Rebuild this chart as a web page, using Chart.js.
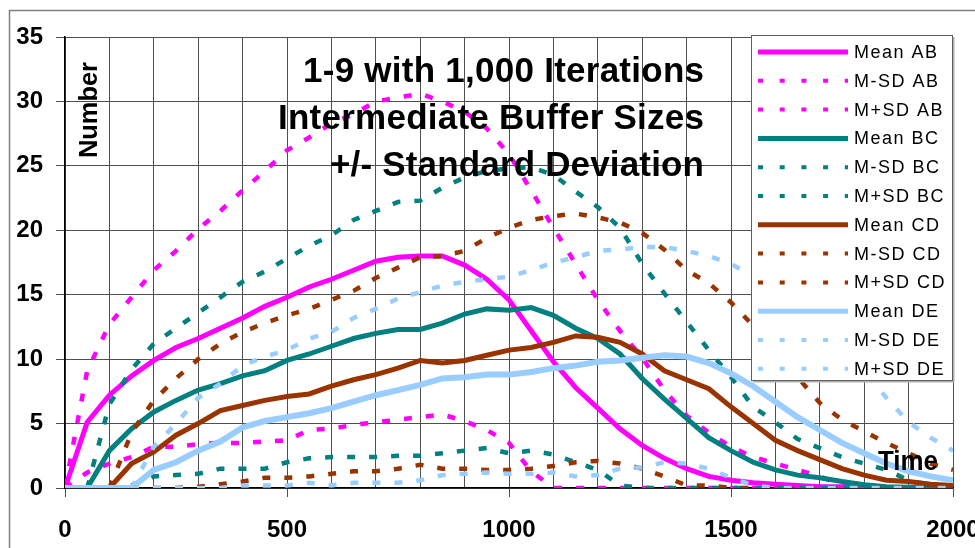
<!DOCTYPE html>
<html>
<head>
<meta charset="utf-8">
<script src="https://cdn.jsdelivr.net/npm/chart.js@4"></script>
<style>
	body { margin: 0; background: #fff; }
	canvas { display: block; }
</style>
</head>
<body>
<canvas id="grafico" width="975" height="548"></canvas>
<script>
// Dados (tempo de 50 em 50)
const tempos = [0, 50, 100, 150, 200, 250, 300, 350, 400, 450, 500, 550, 600, 650, 700, 750, 800, 850, 900, 950, 1000, 1050, 1100, 1150, 1200, 1250, 1300, 1350, 1400, 1450, 1500, 1550, 1600, 1650, 1700, 1750, 1800, 1850, 1900, 1950, 2000];

const meanAB = [0, 5.1, 7.2, 8.7, 9.9, 10.9, 11.6, 12.4, 13.2, 14.1, 14.8, 15.6, 16.2, 16.9, 17.6, 17.9, 18.0, 18.0, 17.3, 16.2, 14.6, 12.2, 9.8, 7.8, 6.2, 4.6, 3.3, 2.3, 1.5, 0.9, 0.6, 0.4, 0.3, 0.2, 0.1, 0.1, 0, 0, 0, 0, 0];
const msdAB = [0, 1.2, 1.9, 2.4, 3.2, 3.2, 3.4, 3.5, 3.5, 3.6, 3.7, 4.5, 4.6, 4.9, 5.1, 5.3, 5.5, 5.7, 5.2, 4.5, 3.5, 1.3, 0, 0, 0, 0, 0, 0, 0, 0, 0, 0, 0, 0, 0, 0, 0, 0, 0, 0, 0];
const psdAB = [0, 9.1, 12.7, 14.8, 16.9, 18.4, 20.1, 21.5, 23.1, 24.6, 26.2, 27.2, 28.3, 29.0, 30.0, 30.3, 30.6, 30.0, 29.2, 27.9, 25.9, 23.1, 20.2, 17.4, 14.6, 12.2, 10.1, 7.6, 5.6, 4.3, 3.2, 2.4, 1.9, 1.4, 0.9, 0.2, 0, 0, 0, 0, 0];

const meanBC = [0, 0, 2.9, 4.6, 5.9, 6.8, 7.6, 8.1, 8.7, 9.1, 9.9, 10.4, 11.0, 11.6, 12.0, 12.3, 12.3, 12.8, 13.5, 13.9, 13.8, 14.0, 13.4, 12.4, 11.6, 10.4, 8.5, 6.9, 5.4, 3.9, 2.9, 2.0, 1.4, 1.0, 0.8, 0.5, 0.25, 0.1, 0.05, 0, 0];
const msdBC = [0, 0, 0, 0.2, 0.9, 1.0, 1.1, 1.5, 1.5, 1.5, 2.0, 2.3, 2.4, 2.4, 2.4, 2.5, 2.5, 2.7, 2.9, 3.1, 2.7, 2.9, 2.6, 2.0, 1.4, 0.2, 0, 0, 0, 0, 0, 0, 0, 0, 0, 0, 0, 0, 0, 0, 0];
const psdBC = [0, 0, 6.5, 9.2, 11.2, 12.4, 13.6, 14.8, 16.0, 16.8, 17.8, 18.8, 19.6, 20.8, 21.5, 22.2, 22.3, 23.3, 24.1, 24.6, 24.8, 24.9, 24.3, 23.0, 21.8, 20.2, 17.4, 15.1, 12.9, 10.7, 8.6, 6.3, 5.1, 3.8, 3.1, 2.4, 1.9, 1.4, 0.6, 0.2, 0];

const meanCD = [0, 0, 0, 1.9, 2.8, 4.1, 5.0, 6.0, 6.4, 6.8, 7.1, 7.3, 7.9, 8.4, 8.8, 9.3, 9.9, 9.7, 9.9, 10.3, 10.7, 10.9, 11.3, 11.8, 11.7, 11.3, 10.4, 9.1, 8.4, 7.7, 6.3, 5.0, 3.7, 2.9, 2.2, 1.5, 1.0, 0.6, 0.5, 0.3, 0.2];
const msdCD = [0, 0, 0, 0, 0, 0, 0.1, 0.3, 0.5, 0.8, 0.8, 0.9, 1.1, 1.3, 1.3, 1.5, 1.8, 1.5, 1.5, 1.4, 1.4, 1.5, 1.7, 2.0, 2.1, 1.9, 1.5, 0.9, 0.2, 0.2, 0, 0, 0, 0, 0, 0, 0, 0, 0, 0, 0];
const psdCD = [0, 0, 0, 4.3, 6.8, 8.5, 10.0, 11.2, 12.1, 12.8, 13.4, 13.9, 14.6, 15.3, 16.3, 17.1, 17.9, 18.0, 18.4, 19.4, 20.2, 20.8, 21.1, 21.3, 21.0, 20.6, 19.8, 18.5, 16.9, 15.9, 14.4, 12.6, 10.5, 8.6, 6.6, 5.3, 4.4, 3.5, 2.7, 1.9, 1.4];

const meanDE = [0, 0, 0, 0, 1.4, 2.0, 2.9, 3.6, 4.7, 5.2, 5.5, 5.8, 6.2, 6.7, 7.2, 7.6, 8.0, 8.5, 8.6, 8.8, 8.8, 9.0, 9.3, 9.5, 9.8, 9.9, 10.1, 10.3, 10.2, 9.7, 8.9, 7.9, 6.7, 5.5, 4.5, 3.5, 2.7, 1.9, 1.3, 0.9, 0.6];
const msdDE = [0, 0, 0, 0, 0, 0, 0, 0, 0.2, 0.2, 0.2, 0.4, 0.2, 0.4, 0.4, 0.4, 0.6, 1.0, 1.1, 1.2, 1.1, 1.1, 1.2, 0.9, 1.0, 1.5, 1.6, 2.0, 1.9, 1.5, 0.8, 0.2, 0, 0, 0, 0, 0, 0, 0, 0, 0];
const psdDE = [0, 0, 0, 0, 3.2, 5.0, 7.0, 8.1, 9.5, 10.2, 10.7, 11.6, 12.1, 13.2, 13.9, 14.7, 15.2, 15.7, 16.0, 16.2, 16.4, 16.9, 17.5, 17.9, 18.4, 18.5, 18.7, 18.7, 18.4, 18.0, 17.4, 16.4, 15.3, 13.6, 12.0, 10.7, 9.1, 7.0, 5.1, 3.9, 2.9];

const nomes = ['Mean AB', 'M-SD AB', 'M+SD AB', 'Mean BC', 'M-SD BC', 'M+SD BC', 'Mean CD', 'M-SD CD', 'M+SD CD', 'Mean DE', 'M-SD DE', 'M+SD DE'];
const series = [meanAB, msdAB, psdAB, meanBC, msdBC, psdBC, meanCD, msdCD, psdCD, meanDE, msdDE, psdDE];
const cores = ['#ff00ff', '#008080', '#993300', '#99ccff'];

const titulo = ['1-9 with 1,000 Iterations', 'Intermediate Buffer Sizes', '+/- Standard Deviation'];
const larguraTitulo = [401, 426, 374];

function montarDatasets() {
	return series.map((valores, i) => {
		const media = i % 3 === 0;
		const cor = cores[Math.floor(i / 3)];
		return {
			label: nomes[i],
			data: valores.map((v, j) => ({ x: tempos[j], y: v })),
			borderColor: cor,
			backgroundColor: cor,
			borderWidth: media ? (cor === '#99ccff' ? 6 : 5) : 4.5,
			borderDash: media ? [] : [8, 14],
			pointRadius: 0,
			tension: 0,
			fill: false,
			order: 12 - i,
		};
	});
}

// ajusta espaçamento para o texto ocupar a largura desejada
function textoLargura(ctx, texto, x, y, largura) {
	ctx.letterSpacing = '0px';
	const natural = ctx.measureText(texto).width;
	if (natural < largura) {
		ctx.letterSpacing = ((largura - natural) / (texto.length - 1)) + 'px';
		ctx.fillText(texto, x, y);
	} else {
		ctx.fillText(texto, x, y, largura);
	}
	ctx.letterSpacing = '0px';
}

// moldura, título, legenda e rótulos
const decoracao = {
	id: 'decoracao',
	beforeDraw(chart) {
		const ctx = chart.ctx;
		ctx.save();
		ctx.fillStyle = '#fff';
		ctx.fillRect(0, 0, chart.width, chart.height);
		ctx.strokeStyle = '#808080';
		ctx.lineWidth = 1.5;
		ctx.beginPath();
		ctx.moveTo(9.5, chart.height);
		ctx.lineTo(9.5, 10.5);
		ctx.lineTo(chart.width, 10.5);
		ctx.stroke();
		ctx.restore();
	},
	afterDatasetsDraw(chart) {
		const ctx = chart.ctx;
		ctx.save();

		// título (alinhado à esquerda, largura ajustada)
		ctx.fillStyle = '#000';
		ctx.font = 'bold 35px "Liberation Sans", Arial, sans-serif';
		ctx.textAlign = 'left';
		ctx.textBaseline = 'alphabetic';
		titulo.forEach((t, i) => {
			textoLargura(ctx, t, 704 - larguraTitulo[i], 82 + i * 47, larguraTitulo[i]);
		});

		// Number
		ctx.save();
		ctx.translate(97, 110);
		ctx.rotate(-Math.PI / 2);
		ctx.textAlign = 'center';
		ctx.font = 'bold 26px "Liberation Sans", Arial, sans-serif';
		ctx.fillText('Number', 0, 0, 96);
		ctx.restore();

		// Time
		ctx.textAlign = 'left';
		ctx.font = 'bold 27px "Liberation Sans", Arial, sans-serif';
		ctx.fillText('Time', 878, 470, 60);

		// legenda
		const lx = 751, ly = 35, lw = 201, lh = 345;
		ctx.fillStyle = '#fff';
		ctx.fillRect(lx, ly, lw, lh);
		ctx.strokeStyle = '#b0b0b0';
		ctx.lineWidth = 2;
		ctx.beginPath();
		ctx.moveTo(lx + lw + 1.5, ly + 2);
		ctx.lineTo(lx + lw + 1.5, ly + lh + 1.5);
		ctx.lineTo(lx + 2, ly + lh + 1.5);
		ctx.stroke();
		ctx.strokeStyle = '#606060';
		ctx.lineWidth = 1;
		ctx.strokeRect(lx + 0.5, ly + 0.5, lw, lh);

		ctx.font = '18px "Liberation Sans", Arial, sans-serif';
		ctx.letterSpacing = '1.5px';
		ctx.textBaseline = 'middle';
		chart.data.datasets.forEach((ds, i) => {
			const y = 52 + i * 28.8;
			ctx.strokeStyle = ds.borderColor;
			ctx.lineWidth = ds.borderDash.length ? 4 : 5;
			ctx.setLineDash(ds.borderDash.length ? [5, 16.7] : []);
			ctx.beginPath();
			ctx.moveTo(758, y);
			ctx.lineTo(848, y);
			ctx.stroke();
			ctx.setLineDash([]);
			ctx.fillStyle = '#000';
			ctx.fillText(ds.label, 854, y + 1);
		});
		ctx.restore();
	},
};

new Chart(document.getElementById('grafico'), {
	type: 'line',
	data: {
		datasets: montarDatasets(),
	},
	options: {
		responsive: false,
		animation: false,
		devicePixelRatio: 1,
		layout: {
			padding: { top: 37, right: 22, bottom: 0, left: 0 },
		},
		plugins: {
			legend: { display: false },
			tooltip: { enabled: false },
		},
		scales: {
			x: {
				type: 'linear',
				min: 0,
				max: 2000,
				afterFit(scale) {
					scale.height = 60;
					scale.paddingLeft = 0;
					scale.paddingRight = 0;
				},
				ticks: {
					stepSize: 100,
					autoSkip: false,
					maxRotation: 0,
					padding: 19,
					color: '#000',
					font: { family: '"Liberation Sans", Arial', size: 24, weight: 'bold' },
					callback: (v) => (v % 500 === 0 ? v : ''),
				},
				grid: {
					color: '#505050',
					lineWidth: 1,
					tickLength: 9,
					tickColor: (c) => (c.tick && c.tick.value % 500 === 0 ? '#505050' : 'rgba(0,0,0,0)'),
				},
				border: { color: '#000', width: 1.5 },
			},
			y: {
				min: 0,
				max: 35,
				afterFit(scale) {
					scale.width = 65;
					scale.paddingTop = 0;
					scale.paddingBottom = 0;
				},
				ticks: {
					stepSize: 5,
					padding: 13,
					color: '#000',
					font: { family: '"Liberation Sans", Arial', size: 24, weight: 'bold' },
				},
				grid: {
					color: '#505050',
					lineWidth: 1,
					tickLength: 9,
				},
				border: { color: '#000', width: 1.5 },
			},
		},
	},
	plugins: [decoracao],
});
</script>
</body>
</html>
